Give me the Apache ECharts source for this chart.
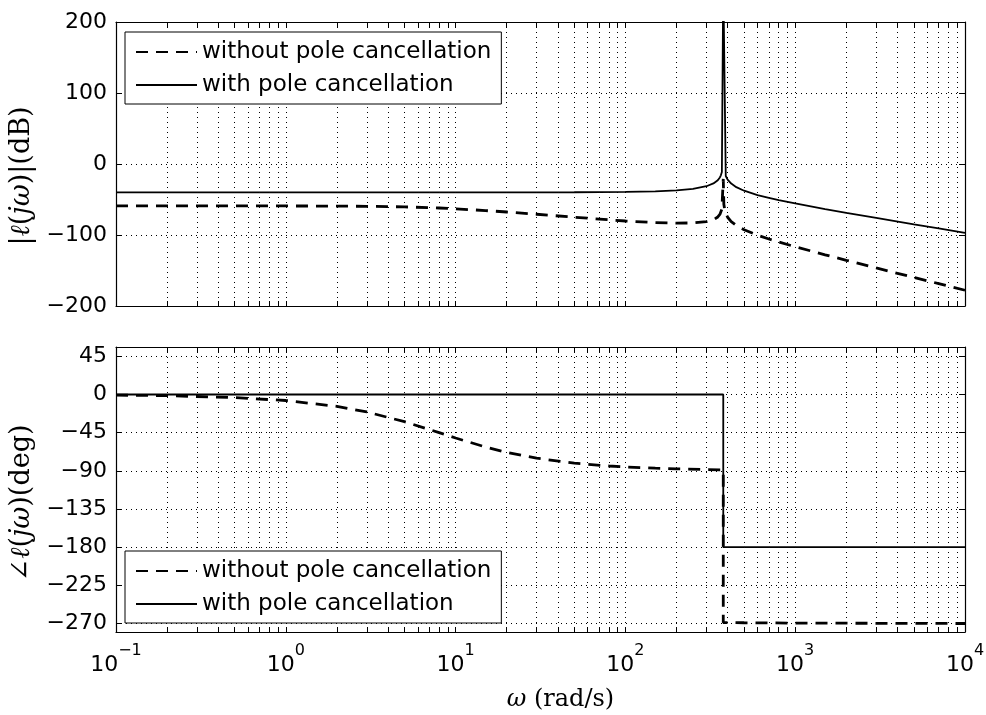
<!DOCTYPE html>
<html><head><meta charset="utf-8">
<script src="https://cdn.jsdelivr.net/npm/echarts@6/dist/echarts.min.js"></script>
<style>html,body{margin:0;padding:0;background:#fff}#c{width:986px;height:715px}</style>
</head><body><div id="c"></div>
<script>
// ---- data ----
const omegaMagWith = [0.1, 0.3, 1, 3, 10, 30, 50, 100, 150, 200, 250, 300, 330, 350, 360, 365, 370, 377, 390, 400, 420, 450, 500, 600, 700, 800, 1000, 1500, 2000, 3000, 5000, 7000, 10000];
const magWith = [-40, -40, -40, -40, -40, -39.9, -39.8, -39.4, -38.5, -37.1, -35.0, -31.3, -27.4, -22.8, -18.9, -15.9, -11.3, 260, -16.9, -22.0, -27.6, -32.6, -37.6, -43.7, -47.8, -50.9, -55.6, -63.4, -68.7, -75.9, -84.9, -90.7, -96.9];
const omegaMagWithout = [0.1, 0.3, 1, 2, 3, 5, 8, 10, 15, 20, 30, 50, 80, 100, 150, 200, 250, 300, 330, 350, 360, 370, 377, 380, 385, 390, 400, 420, 450, 500, 600, 700, 800, 1000, 1500, 2000, 3000, 5000, 7000, 10000];
const magWithout = [-59.0, -59.0, -59.1, -59.3, -59.6, -60.4, -62.0, -63.1, -65.6, -67.6, -70.8, -74.9, -78.6, -80.3, -82.5, -83.3, -83.0, -81.3, -78.7, -74.6, -71.0, -63.6, -21, -56.6, -65.3, -69.7, -75.0, -81.1, -86.6, -92.5, -100.2, -105.6, -109.9, -116.5, -127.9, -135.6, -146.4, -159.8, -168.5, -177.8];
const omegaPhaseWithout = [0.1, 0.2, 0.5, 1, 2, 3, 5, 8, 10, 15, 20, 30, 50, 80, 100, 150, 200, 300, 377, 377, 500, 1000, 10000];
const phaseWithout = [-0.7, -1.4, -3.6, -7.1, -14.0, -20.6, -32.0, -45.0, -51.3, -61.9, -68.2, -75.1, -80.9, -84.3, -85.4, -86.9, -87.7, -88.5, -88.8, -268.8, -269.1, -269.5, -270.0];
const omegaPhaseWith = [0.1, 377, 377, 10000];
const phaseWith = [0, 0, -180, -180];

const seriesNames = ['without pole cancellation', 'with pole cancellation'];
const xMajor = [0.1, 1, 10, 100, 1000, 10000];
const minorMult = [2, 3, 4, 5, 6, 7, 8, 9];
const magTicks = [-200, -100, 0, 100, 200];
const phaseTicks = [-270, -225, -180, -135, -90, -45, 0, 45];

// ---- build ----
const xTicks = [];
xMajor.forEach(d => { xTicks.push(d); if (d < 10000) minorMult.forEach(m => xTicks.push(+(d * m).toPrecision(3))); });
const zip = (a, b) => a.map((v, i) => [v, b[i]]);
const minusFmt = v => (v < 0 ? '\u2212' + Math.abs(v) : String(v));
const SANS = 'DejaVu Sans', SERIF = 'DejaVu Serif';
const gridLine = { show: true, lineStyle: { color: '#000', width: 1, type: [1, 4] } };
const axLine = { show: true, onZero: false, lineStyle: { color: '#000', width: 1.2 } };

function xAx(gridIndex, pos, labels, split, extra) {
  return Object.assign({
    type: 'log', logBase: 10, min: 0.1, max: 10000, gridIndex: gridIndex, position: pos,
    axisLine: axLine,
    axisTick: { show: true, inside: true, length: 5, customValues: xTicks, lineStyle: { color: '#000', width: 1 } },
    axisLabel: {
      show: labels, customValues: xMajor, margin: 20,
      formatter: v => { const e = Math.round(Math.log10(v)); return '{b|10}{s|' + (e < 0 ? '\u2212' + (-e) : e) + '}'; },
      rich: {
        b: { fontFamily: SANS, fontSize: 22, lineHeight: 24, verticalAlign: 'bottom', color: '#000' },
        s: { fontFamily: SANS, fontSize: 16, lineHeight: 16, padding: [0, 0, 17, 0], verticalAlign: 'bottom', color: '#000' }
      }
    },
    splitLine: split ? gridLine : { show: false },
    minorTick: { show: false }, minorSplitLine: { show: false }
  }, extra || {});
}
function yAx(gridIndex, pos, min, max, ticks, main, extra) {
  return Object.assign({
    type: 'value', gridIndex: gridIndex, position: pos, min: min, max: max,
    axisLine: axLine,
    axisTick: { show: true, inside: true, length: 6, customValues: ticks, lineStyle: { color: '#000', width: 1 } },
    axisLabel: { show: main, customValues: ticks, formatter: minusFmt, fontFamily: SANS, fontSize: 22, color: '#000', margin: 9 },
    splitLine: main ? gridLine : { show: false }
  }, extra || {});
}
const serifRich = { i: { fontStyle: 'italic', fontFamily: SERIF, fontSize: 27, color: '#000' } };

function lineSeries(name, xi, yi, data, dashed) {
  return {
    type: 'line', name: name, xAxisIndex: xi, yAxisIndex: yi, data: data,
    symbol: 'none', showSymbol: false, clip: true, animation: false, z: 3,
    itemStyle: { color: '#000' },
    lineStyle: dashed ? { color: '#000', width: 2.8, type: [12, 8] } : { color: '#000', width: 1.8, type: 'solid' }
  };
}
function legendAt(top) {
  return {
    orient: 'vertical', left: 125, top: top, data: seriesNames,
    backgroundColor: '#fff', borderColor: '#000', borderWidth: 1, borderRadius: 0,
    padding: [8, 10, 7, 10], itemGap: 9, itemWidth: 61, itemHeight: 14,
    itemStyle: { opacity: 0 },
    textStyle: { fontFamily: SANS, fontSize: 23, color: '#000', lineHeight: 24 },
    selectedMode: false, z: 10
  };
}

const option = {
  backgroundColor: '#fff',
  animation: false,
  grid: [
    { left: 116, right: 21, top: 22, height: 284, outerBoundsMode: 'none' },
    { left: 116, right: 21, top: 347, height: 285, outerBoundsMode: 'none' }
  ],
  legend: [legendAt(32), legendAt(551)],
  xAxis: [
    xAx(0, 'bottom', false, true),
    xAx(0, 'top', false, false),
    xAx(1, 'bottom', true, true, {
      name: '{i|\u03c9} (rad/s)', nameLocation: 'middle', nameGap: 56,
      nameTextStyle: { fontFamily: SERIF, fontSize: 24, color: '#000', padding: [0, 0, 0, 40], rich: { i: { fontStyle: 'italic', fontFamily: SERIF, fontSize: 24, color: '#000' } } }
    }),
    xAx(1, 'top', false, false)
  ],
  yAxis: [
    yAx(0, 'left', -200, 200, magTicks, true, {
      name: '|{i|\u2113}({i|j\u03c9})|(dB)', nameLocation: 'middle', nameGap: 79,
      nameTextStyle: { fontFamily: SERIF, fontSize: 27, color: '#000', padding: [0, 24, 0, 0], rich: serifRich }
    }),
    yAx(0, 'right', -200, 200, magTicks, false),
    yAx(1, 'left', -280, 56, phaseTicks, true, {
      name: '\u2220{i|\u2113}({i|j\u03c9})(deg)', nameLocation: 'middle', nameGap: 79,
      nameTextStyle: { fontFamily: SERIF, fontSize: 27, color: '#000', padding: [0, 27, 0, 0], rich: serifRich }
    }),
    yAx(1, 'right', -280, 56, phaseTicks, false)
  ],
  series: [
    lineSeries(seriesNames[0], 0, 0, zip(omegaMagWithout, magWithout), true),
    lineSeries(seriesNames[1], 0, 0, zip(omegaMagWith, magWith), false),
    lineSeries(seriesNames[0], 2, 2, zip(omegaPhaseWithout, phaseWithout), true),
    lineSeries(seriesNames[1], 2, 2, zip(omegaPhaseWith, phaseWith), false)
  ]
};
const chart = echarts.init(document.getElementById('c'), null, { renderer: 'canvas' });
chart.setOption(option);
</script>
</body></html>
